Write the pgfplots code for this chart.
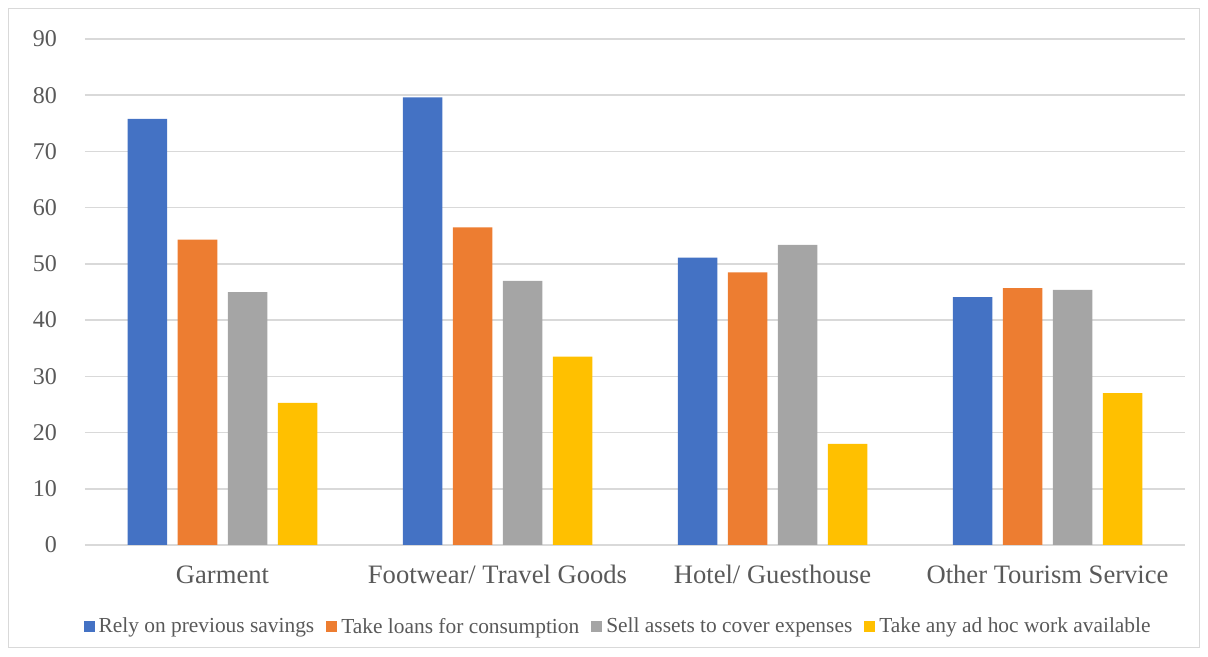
\documentclass[border=0pt]{standalone}
\usepackage{pgfplots}
\pgfplotsset{compat=1.18}
\usepackage{fontspec}
\setmainfont{Liberation Serif}
\definecolor{cblue}{HTML}{4472C4}
\definecolor{corange}{HTML}{ED7D31}
\definecolor{cgray}{HTML}{A5A5A5}
\definecolor{cyellow}{HTML}{FFC000}
\definecolor{txt}{HTML}{595959}
\definecolor{gridc}{HTML}{D9D9D9}
\begin{document}
\begin{tikzpicture}
\begin{axis}[
  scale only axis,
  width=550pt, height=253pt,
  ybar=5.25pt, bar width=19.75pt,
  xmin=-0.5, xmax=3.5, ymin=0, ymax=90,
  xtick=data,
  xticklabels={Garment, Footwear/ Travel Goods, Hotel/ Guesthouse, Other Tourism Service},
  ytick={0,10,...,90},
  xmajorgrids=false,
  ymajorgrids=true,
  major grid style={draw=gridc, line width=0.75pt},
  axis line style={draw=none},
  tick style={draw=none},
  major tick length=0pt,
  /pgf/number format/assume math mode=true,
  yticklabel style={font=\fontsize{12}{14}\selectfont, text=txt, xshift=-10.5pt},
  xticklabel style={font=\fontsize{13.3}{15}\selectfont, text=txt, text height=9pt, text depth=3pt, yshift=-6.5pt},
  legend style={at={(0.4855,-0.162)}, anchor=center, draw=none, fill=none,
    legend columns=4, font=\fontsize{10.7}{12}\selectfont, text=txt,
    /tikz/every even column/.append style={column sep=4pt},
    /tikz/every odd column/.append style={column sep=0pt}},
  legend image code/.code={\fill[#1] (0pt,-2.75pt) rectangle (5.5pt,2.75pt);},
]
\addplot[fill=cblue, draw=none] coordinates {(0,75.8) (1,79.6) (2,51.1) (3,44.1)};
\addplot[fill=corange, draw=none] coordinates {(0,54.3) (1,56.5) (2,48.5) (3,45.7)};
\addplot[fill=cgray, draw=none] coordinates {(0,45.0) (1,47.0) (2,53.4) (3,45.4)};
\addplot[fill=cyellow, draw=none] coordinates {(0,25.3) (1,33.5) (2,18.0) (3,27.0)};
\legend{Rely on previous savings, Take loans for consumption, Sell assets to cover expenses, Take any ad hoc work available}
\end{axis}
\draw[gridc, line width=0.5pt] (-38pt,268pt) rectangle (557pt,-51.5pt);
\pgfresetboundingbox
\path (-42.5pt,-56pt) rectangle (561.5pt,272.5pt);
\end{tikzpicture}
\end{document}
